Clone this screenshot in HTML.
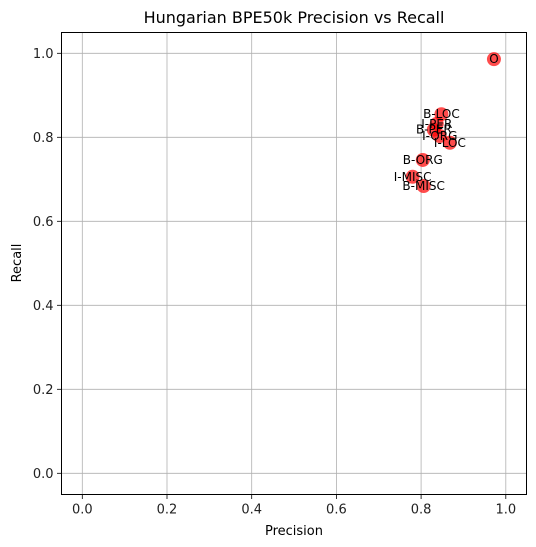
<!DOCTYPE html>
<html><head><meta charset="utf-8"><style>body{margin:0;background:#fff}svg{display:block;font-family:"DejaVu Sans","Liberation Sans",sans-serif}</style></head>
<body>
<svg id="chart" width="536" height="547"></svg>
<script>
const labels=["O","B-LOC","I-PER","B-PER","I-ORG","I-LOC","B-ORG","I-MISC","B-MISC"];
const precision=[0.972,0.848,0.837,0.830,0.844,0.868,0.804,0.780,0.806];
const recall=[0.986,0.855,0.832,0.818,0.803,0.787,0.746,0.706,0.684];
const ticks=[0,0.2,0.4,0.6,0.8,1.0];
const tickLabels=["0.0","0.2","0.4","0.6","0.8","1.0"];
const NS="http://www.w3.org/2000/svg";
const svg=document.getElementById('chart');
const L=61.5,R=526.5,T=32.5,B=494.5;
const xs=v=>82.3+v*423.5;
const ys=v=>473.3-v*420;
function mk(tag,attrs,text){const e=document.createElementNS(NS,tag);for(const k in attrs)e.setAttribute(k,attrs[k]);if(text!=null)e.textContent=text;svg.appendChild(e);return e;}
ticks.forEach((t,i)=>{
  let g=mk('line',{x1:xs(t),x2:xs(t),y1:T,y2:B,stroke:'#b0b0b0','stroke-width':0.8});
  
  g=mk('line',{x1:L,x2:R,y1:ys(t),y2:ys(t),stroke:'#b0b0b0','stroke-width':0.8});
  
  let tk=mk('line',{x1:xs(t),x2:xs(t),y1:B,y2:B+4.5,stroke:'#000','stroke-width':0.8});
  
  tk=mk('line',{x1:L-4.5,x2:L,y1:ys(t),y2:ys(t),stroke:'#000','stroke-width':0.8});
  
  let tx=mk('text',{x:xs(t),y:B+19,'text-anchor':'middle','font-size':13,fill:'#222'},tickLabels[i]);
  
  tx=mk('text',{x:L-8,y:ys(t)+4.5,'text-anchor':'end','font-size':13,fill:'#222'},tickLabels[i]);
  
});
labels.forEach((lab,i)=>{
  const c=mk('circle',{cx:xs(precision[i]),cy:ys(recall[i]),r:7,fill:'rgba(255,0,0,0.7)'});
  
  
});
labels.forEach((lab,i)=>{
  const t=mk('text',{x:xs(precision[i]),y:ys(recall[i])+4,'text-anchor':'middle','font-size':12,fill:'#000'},lab);
  
  
});
const fr=mk('rect',{x:L,y:T,width:R-L,height:B-T,fill:'none',stroke:'#000','stroke-width':1});

let ti=mk('text',{x:(L+R)/2,y:23,'text-anchor':'middle','font-size':16,fill:'#000'},'Hungarian BPE50k Precision vs Recall');

let xl=mk('text',{x:(L+R)/2,y:535,'text-anchor':'middle','font-size':13,fill:'#000'},'Precision');

let yl=mk('text',{x:0,y:0,'text-anchor':'middle','font-size':13,fill:'#000',transform:'translate(21,263) rotate(-90)'},'Recall');

</script>
</body></html>
